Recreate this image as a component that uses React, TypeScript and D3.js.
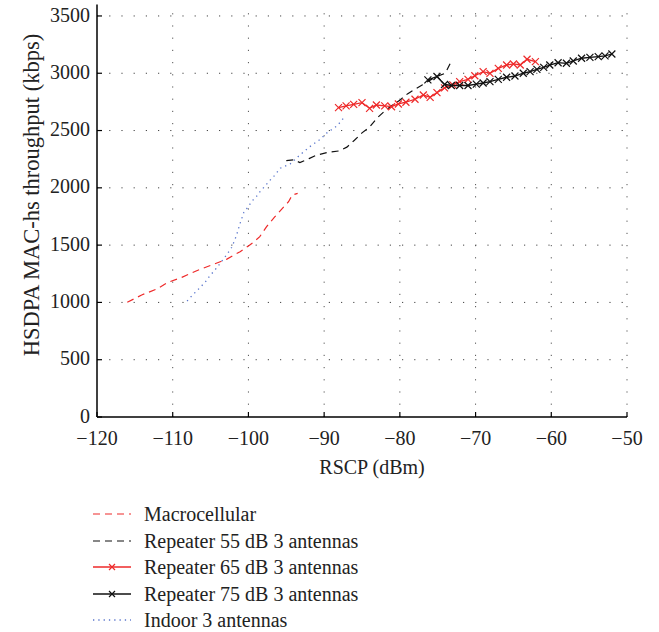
import React from "react";
import * as d3 from "d3";

const macroX = [-116.0, -114.1, -112.1, -110.6, -108.8, -106.6, -104.6, -102.9, -101.1, -100.0, -99.4, -98.5, -97.6, -96.5, -95.6, -94.7, -94.2, -93.5];
const macroY = [1001, 1065, 1117, 1176, 1219, 1283, 1333, 1376, 1443, 1493, 1521, 1574, 1661, 1748, 1815, 1879, 1938, 1952];

const rep55X = [-95.0, -94.0, -93.2, -92.0, -91.0, -89.5, -88.0, -87.0, -86.0, -85.0, -84.0, -83.0, -82.0, -81.0, -80.0, -79.0, -78.0, -77.0, -76.0, -75.0, -74.0, -73.2];
const rep55Y = [2237, 2245, 2220, 2255, 2285, 2310, 2322, 2355, 2415, 2480, 2530, 2610, 2670, 2720, 2765, 2820, 2860, 2900, 2940, 2975, 3000, 3105];

const rep65X = [-88.1, -87.1, -86.1, -85.0, -84.0, -83.1, -82.0, -81.1, -80.2, -79.2, -78.0, -76.9, -76.0, -75.1, -74.1, -73.0, -72.1, -71.0, -70.1, -69.0, -68.1, -67.0, -65.9, -65.0, -64.1, -63.2, -62.1];
const rep65Y = [2700, 2715, 2728, 2743, 2694, 2723, 2715, 2708, 2732, 2747, 2773, 2810, 2790, 2831, 2872, 2898, 2927, 2947, 2978, 3014, 2999, 3043, 3072, 3081, 3072, 3122, 3101];

const rep75X = [-76.3, -75.1, -74.1, -73.2, -72.1, -71.0, -69.9, -69.0, -68.1, -67.0, -65.9, -64.8, -63.7, -62.8, -61.9, -61.0, -60.2, -59.1, -58.0, -57.1, -56.0, -54.9, -53.8, -52.9, -52.0];
const rep75Y = [2942, 2972, 2902, 2893, 2893, 2893, 2905, 2915, 2927, 2947, 2965, 2976, 3000, 3014, 3034, 3051, 3072, 3092, 3087, 3107, 3131, 3139, 3145, 3151, 3168];

const indoorX = [-108.1, -107.5, -106.8, -106.2, -105.6, -105.1, -104.5, -104.0, -103.4, -102.9, -102.2, -101.6, -101.1, -100.6, -100.0, -99.6, -98.9, -98.4, -97.8, -97.2, -96.6, -95.8, -94.5, -93.2, -91.9, -90.5, -89.7, -88.3, -87.2];
const indoorY = [1012, 1056, 1102, 1143, 1187, 1233, 1277, 1318, 1370, 1414, 1481, 1580, 1690, 1787, 1836, 1879, 1929, 1973, 2016, 2063, 2104, 2171, 2208, 2287, 2359, 2424, 2476, 2540, 2627];

const xTicks = [-120, -110, -100, -90, -80, -70, -60, -50];
const yTicks = [0, 500, 1000, 1500, 2000, 2500, 3000, 3500];
const legendLabels = ["Macrocellular", "Repeater 55 dB 3 antennas", "Repeater 65 dB 3 antennas", "Repeater 75 dB 3 antennas", "Indoor 3 antennas"];

const RED = "#ee2a2a";
const BLACK = "#111";
const BLUE = "#5a76cc";
const FONT = "'Liberation Serif', 'Times New Roman', serif";

export default function App() {
  const W = 659, H = 632;
  const x = d3.scaleLinear().domain([-120, -50]).range([97, 627]);
  const y = d3.scaleLinear().domain([0, 3600]).range([417, 4.5]);
  const line = d3.line<[number, number]>().x(d => x(d[0])).y(d => y(d[1]));
  const zip = (a: number[], b: number[]) => a.map((v, i) => [v, b[i]] as [number, number]);

  const series = [
    { pts: zip(macroX, macroY), color: RED, dash: "7,5", marker: false, width: 1.2 },
    { pts: zip(rep55X, rep55Y), color: BLACK, dash: "7,5", marker: false, width: 1.2 },
    { pts: zip(rep65X, rep65Y), color: RED, dash: null, marker: true, width: 1.3 },
    { pts: zip(rep75X, rep75Y), color: BLACK, dash: null, marker: true, width: 1.3 },
    { pts: zip(indoorX, indoorY), color: BLUE, dash: "1.3,4", marker: false, width: 1.3 },
  ];

  const xMark = (cx: number, cy: number, c: string, k: string, s = 3.5) => (
    <path key={k} d={`M${cx - s},${cy - s}L${cx + s},${cy + s}M${cx - s},${cy + s}L${cx + s},${cy - s}`} stroke={c} strokeWidth={1.2} fill="none" />
  );

  const legendY = [514, 541, 567, 594, 620];

  return (
    <svg width={W} height={H} style={{ position: "absolute", left: 0, top: 0, background: "#fff" }} fontFamily={FONT}>
      {/* grid */}
      {yTicks.filter(t => t > 0).map(t => (
        <line key={"gy" + t} x1={x(-120)} x2={x(-50)} y1={y(t)} y2={y(t)} stroke="#444" strokeWidth={1} strokeDasharray="1.2,11" />
      ))}
      {xTicks.filter(t => t > -120).map(t => (
        <line key={"gx" + t} x1={x(t)} x2={x(t)} y1={y(0)} y2={y(3600)} stroke="#555" strokeWidth={1} strokeDasharray="1.2,11" />
      ))}
      {/* series */}
      {series.map((s, i) => (
        <g key={"s" + i}>
          <path d={line(s.pts) || ""} fill="none" stroke={s.color} strokeWidth={s.width} strokeDasharray={s.dash || undefined} />
          {s.marker && s.pts.map((p, j) => xMark(x(p[0]), y(p[1]), s.color, `m${i}-${j}`))}
        </g>
      ))}
      {/* axes */}
      <line x1={x(-120)} x2={x(-120)} y1={y(0)} y2={y(3600)} stroke="#000" strokeWidth={1.5} />
      <line x1={x(-120)} x2={x(-50)} y1={y(0)} y2={y(0)} stroke="#000" strokeWidth={1.5} />
      {yTicks.map(t => (
        <g key={"ty" + t}>
          <line x1={x(-120)} x2={x(-120) + 5} y1={y(t)} y2={y(t)} stroke="#000" strokeWidth={1.2} />
          <text x={90} y={y(t)} dy="0.28em" textAnchor="end" fontSize={20} fill="#222">{t}</text>
        </g>
      ))}
      {xTicks.map(t => (
        <g key={"tx" + t}>
          <line x1={x(t)} x2={x(t)} y1={y(0)} y2={y(0) - 5} stroke="#000" strokeWidth={1.2} />
          <text x={x(t)} y={445} textAnchor="middle" fontSize={20} fill="#222">{"\u2212" + Math.abs(t)}</text>
        </g>
      ))}
      <text x={372} y={474} textAnchor="middle" fontSize={20} fill="#222">RSCP (dBm)</text>
      <text transform={`translate(39,195) rotate(-90)`} textAnchor="middle" fontSize={22.5} fill="#222">HSDPA MAC-hs throughput (kbps)</text>
      {/* legend */}
      {series.map((s, i) => (
        <g key={"l" + i}>
          <line x1={93} x2={131} y1={legendY[i]} y2={legendY[i]} stroke={s.color} strokeWidth={s.width} strokeDasharray={s.dash || undefined} />
          {s.marker && xMark(112, legendY[i], s.color, "lm" + i, 3)}
          <text x={144} y={legendY[i]} dy="0.33em" fontSize={20} fill="#222">{legendLabels[i]}</text>
        </g>
      ))}
    </svg>
  );
}
